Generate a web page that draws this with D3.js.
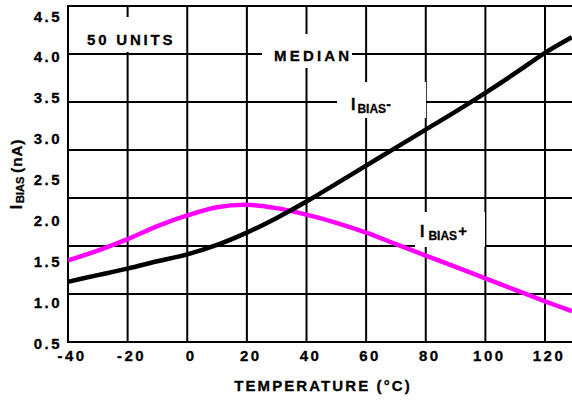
<!DOCTYPE html>
<html>
<head>
<meta charset="UTF-8">
<title>IBIAS vs temperature</title>
<script src="https://d3js.org/d3.v7.min.js"></script>
<style>
  body { margin: 0; background: #fff; }
  text { font-family: "Liberation Sans", Arial, sans-serif; font-weight: bold; fill: #000; stroke: #000; stroke-width: 0.3px; }
</style>
</head>
<body>
<div class="canvas"></div>
<script>
  // data
  const temps = [-40, -30, -20, -10, 0, 10, 20, 30, 40, 50, 60, 70, 80, 90, 100, 110, 120, 129]
  const biasMinus = [1.25, 1.33, 1.41, 1.50, 1.585, 1.70, 1.85, 2.03, 2.23, 2.45, 2.67, 2.89, 3.11, 3.33, 3.56, 3.80, 4.05, 4.24]
  const biasPlus = [1.51, 1.63, 1.77, 1.93, 2.06, 2.16, 2.19, 2.15, 2.07, 1.97, 1.85, 1.71, 1.57, 1.43, 1.29, 1.15, 1.01, 0.89]
  const xTicks = [-40, -20, 0, 20, 40, 60, 80, 100, 120]
  const yTicks = [0.5, 1.0, 1.5, 2.0, 2.5, 3.0, 3.5, 4.0, 4.5]
  const gridRows = [1, 2, 3, 4, 5, 6] // horizontal grid is 7 equal divisions

  const W = 572, H = 400
  const pLeft = 68, pRight = 572, pTop = 6, pBottom = 342

  const svg = d3.select('.canvas')
    .append('svg')
    .attr('width', W)
    .attr('height', H)

  const x = d3.scaleLinear().domain([-40, 120]).range([pLeft, 545])
  const y = d3.scaleLinear().domain([0.5, 4.5]).range([343, 16])
  const gy = d3.scaleLinear().domain([0, 7]).range([pBottom, pTop])

  svg.append('clipPath').attr('id', 'clip')
    .append('rect').attr('x', pLeft).attr('y', pTop).attr('width', pRight - pLeft).attr('height', pBottom - pTop)

  const grid = svg.append('g').attr('stroke', '#000').attr('stroke-width', 2)
  grid.selectAll('.v').data(xTicks.slice(1))
    .enter().append('line')
    .attr('x1', d => x(d)).attr('x2', d => x(d))
    .attr('y1', pTop).attr('y2', pBottom)
  grid.selectAll('.h').data(gridRows)
    .enter().append('line')
    .attr('x1', pLeft).attr('x2', pRight)
    .attr('y1', d => gy(d)).attr('y2', d => gy(d))

  // white boxes behind the labels (grid is broken there)
  const boxes = [
    [80, 17, 102, 35],
    [262, 34, 90, 34],
    [337, 82, 89, 36],
    [415, 212, 70, 35]
  ]
  svg.selectAll('.box').data(boxes)
    .enter().append('rect')
    .attr('x', d => d[0]).attr('y', d => d[1])
    .attr('width', d => d[2]).attr('height', d => d[3])
    .attr('fill', '#fff')

  // frame
  svg.append('path')
    .attr('d', `M${pRight},${pTop}H${pLeft}V${pBottom}H${pRight}`)
    .attr('fill', 'none').attr('stroke', '#000').attr('stroke-width', 2)

  const line = d3.line().curve(d3.curveCatmullRom)
  const plot = svg.append('g').attr('clip-path', 'url(#clip)')
  plot.append('path')
    .attr('d', line(temps.map((t, i) => [x(t), y(biasPlus[i])])))
    .attr('fill', 'none').attr('stroke', '#ff00ff').attr('stroke-width', 4.5)
  plot.append('path')
    .attr('d', line(temps.map((t, i) => [x(t), y(biasMinus[i])])))
    .attr('fill', 'none').attr('stroke', '#000').attr('stroke-width', 4.5)

  // tick labels
  svg.selectAll('.yl').data(yTicks)
    .enter().append('text')
    .attr('x', 62).attr('y', d => y(d) + 5.5)
    .attr('text-anchor', 'end')
    .attr('font-size', 15).attr('letter-spacing', 2.5)
    .text(d => d.toFixed(1))
  svg.selectAll('.xl').data(xTicks)
    .enter().append('text')
    .attr('x', d => x(d) + 4).attr('y', 361)
    .attr('text-anchor', 'middle')
    .attr('font-size', 15).attr('letter-spacing', 2.5)
    .text(d => d)

  svg.append('text')
    .attr('x', 323).attr('y', 391)
    .attr('text-anchor', 'middle')
    .attr('font-size', 15).attr('letter-spacing', 2.1)
    .text('TEMPERATURE (°C)')

  const yt = svg.append('text')
    .attr('transform', 'translate(22,174) rotate(-90)')
    .attr('text-anchor', 'middle')
    .attr('font-size', 16)
  yt.append('tspan').text('I')
  yt.append('tspan').attr('font-size', 11).attr('dy', 2).attr('dx', 2).text('BIAS')
  yt.append('tspan').attr('font-size', 15).attr('dy', -2).attr('dx', 4).attr('letter-spacing', 1).text('(nA)')

  svg.append('text')
    .attr('x', 87).attr('y', 45)
    .attr('font-size', 15).attr('letter-spacing', 2.8)
    .text('50 UNITS')
  svg.append('text')
    .attr('x', 274).attr('y', 61)
    .attr('font-size', 15).attr('letter-spacing', 3.2)
    .text('MEDIAN')

  const lm = svg.append('text').attr('x', 351).attr('y', 110).attr('font-size', 16)
  lm.append('tspan').text('I')
  lm.append('tspan').attr('font-size', 12).attr('dy', 3).attr('dx', 2).text('BIAS')
  lm.append('tspan').attr('font-size', 14).attr('dy', -4).text('-')

  const lp = svg.append('text').attr('x', 420).attr('y', 237).attr('font-size', 16)
  lp.append('tspan').text('I')
  lp.append('tspan').attr('font-size', 12).attr('dy', 3).attr('dx', 4).text('BIAS')
  lp.append('tspan').attr('font-size', 15).attr('dy', -4).attr('dx', 1).text('+')
</script>
</body>
</html>
